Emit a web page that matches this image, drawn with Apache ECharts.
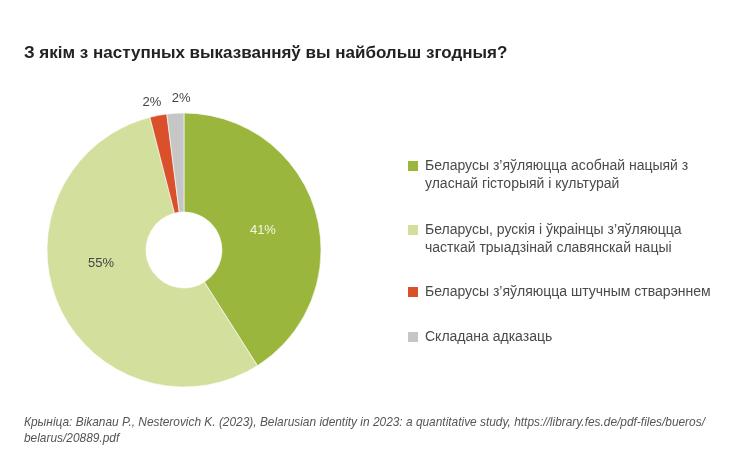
<!DOCTYPE html>
<html><head><meta charset="utf-8">
<script src="https://cdn.jsdelivr.net/npm/echarts@6/dist/echarts.min.js"></script>
<style>html,body{margin:0;padding:0;background:#fff}#c{width:732px;height:455px}</style>
</head><body><div id="c"></div>
<script>
const categories = [
  "Беларусы з’яўляюцца асобнай нацыяй з\nуласнай гісторыяй і культурай",
  "Беларусы, рускія і ўкраінцы з’яўляюцца\nчасткай трыадзінай славянскай нацыі",
  "Беларусы з’яўляюцца штучным стварэннем",
  "Складана адказаць"
];
const values = [41, 55, 2, 2];
const colors = ["#9bb63c", "#d3e09d", "#d9502b", "#c6c6c6"];
const labelColors = ["#f2f6e0", "#444444", "#444444", "#444444"];
const labelOffsets = [[-8, 6], [0, -23], [-3, 5], [7, 3]];
const titleText = "З якім з наступных выказванняў вы найбольш згодныя?";
const sourceText = "Крыніца: Bikanau P., Nesterovich K. (2023), Belarusian identity in 2023: a quantitative study, https://library.fes.de/pdf-files/bueros/\nbelarus/20889.pdf";

const legendTops = [139, 203, 283, 328];
const legends = categories.map((name, i) => ({
  orient: 'vertical',
  left: 406,
  top: legendTops[i],
  padding: 0,
  itemWidth: 12,
  itemHeight: 12,
  icon: 'rect',
  selectedMode: false,
  data: [name],
  formatter: n => (n.indexOf("\n") >= 0 ? "\n" + n : n),
  textStyle: {
    fontFamily: 'Liberation Sans, Arial, sans-serif',
    fontSize: 14,
    color: '#4a4a4a',
    lineHeight: 18,
    padding: [0, 0, 0, 1]
  }
}));

const font = 'Liberation Sans, Arial, sans-serif';
const chart = echarts.init(document.getElementById('c'));
chart.setOption({
  animation: false,
  color: colors,
  title: [
    { text: titleText, left: 19, top: 40,
      textStyle: { fontFamily: font, fontSize: 17, fontWeight: 'bold', color: '#222' } },
    { text: sourceText, left: 19, top: 410,
      textStyle: { fontFamily: font, fontSize: 11.9, fontStyle: 'italic', fontWeight: 'normal', color: '#555', lineHeight: 16 } }
  ],
  legend: legends,
  series: [{
    type: 'pie',
    center: [184, 250],
    radius: [38, 137],
    startAngle: 90,
    clockwise: true,
    silent: true,
    itemStyle: { borderColor: '#fff', borderWidth: 0.6 },
    labelLine: { show: false },
    data: categories.map((name, i) => ({
      name: name,
      value: values[i],
      label: {
        show: i < 2,
        position: 'inside',
        offset: labelOffsets[i],
        formatter: values[i] + '%',
        color: labelColors[i],
        fontSize: 13,
        fontFamily: font
      }
    }))
  }, {
    type: 'pie',
    center: [184, 250],
    radius: [137, 167],
    startAngle: 90,
    clockwise: true,
    silent: true,
    itemStyle: { color: 'transparent' },
    labelLine: { show: false },
    data: categories.map((name, i) => ({
      name: name,
      value: values[i],
      label: {
        show: i >= 2,
        position: 'inside',
        offset: labelOffsets[i],
        formatter: values[i] + '%',
        color: labelColors[i],
        fontSize: 13,
        fontFamily: font
      }
    }))
  }]
});
</script></body></html>
